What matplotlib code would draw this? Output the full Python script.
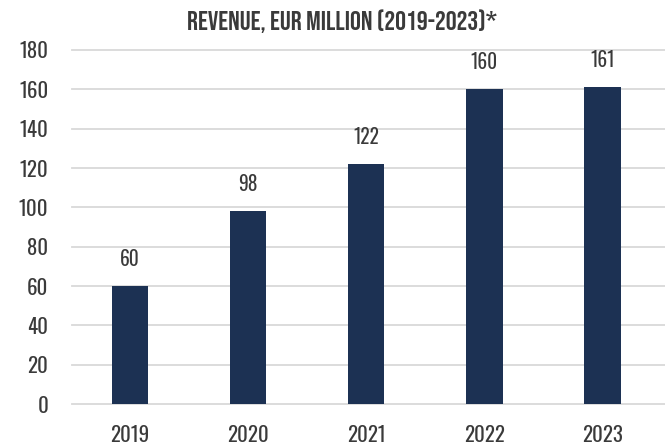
import matplotlib
matplotlib.use("Agg")
import matplotlib.pyplot as plt

# ---------- Data ----------
years = ["2019", "2020", "2021", "2022", "2023"]
revenue = [60, 98, 122, 160, 161]
y_ticks = [0, 20, 40, 60, 80, 100, 120, 140, 160, 180]

BAR_COLOR = "#1c3153"
TEXT_COLOR = "#3a3a3a"
GRID_COLOR = "#d9d9d9"
NUM_FONT = ["Oswald", "DejaVu Sans"]
TITLE_FONT = ["Bebas Neue", "DejaVu Sans"]

fig = plt.figure(figsize=(6.65, 4.48), dpi=100)
ax = fig.add_axes([72 / 665, 1 - 404 / 448, 1 - 72 / 665, (404 - 50) / 448])

x = list(range(len(years)))
ax.bar(x, revenue, width=0.31, color=BAR_COLOR, zorder=3)

# value labels above bars
for xi, v in zip(x, revenue):
    ax.annotate(str(v), (xi, v), xytext=(0, 19.5), textcoords="offset points",
                ha="center", va="center", fontsize=14, color=TEXT_COLOR,
                family=NUM_FONT)

ax.set_xlim(-0.49, 4.53)
ax.set_ylim(0, 180)
ax.set_yticks(y_ticks)
ax.set_yticklabels([str(t) for t in y_ticks], family=NUM_FONT, fontsize=15,
                   color=TEXT_COLOR)
ax.set_xticks(x)
ax.set_xticklabels(years, family=NUM_FONT, fontsize=15, color=TEXT_COLOR)
ax.tick_params(axis="both", length=0)
ax.tick_params(axis="y", pad=17)
ax.tick_params(axis="x", pad=15)

ax.yaxis.grid(True, color=GRID_COLOR, linewidth=1.3, zorder=0)
ax.set_axisbelow(True)
for s in ax.spines.values():
    s.set_visible(False)
for gl in ax.get_ygridlines():
    gl.set_clip_on(False)

fig.text(342 / 665, 1 - 21 / 448, "REVENUE, EUR MILLION (2019-2023)*",
         ha="center", va="center", fontsize=19.5,
         color=TEXT_COLOR, family=TITLE_FONT)

fig.savefig("out.png", dpi=100)
